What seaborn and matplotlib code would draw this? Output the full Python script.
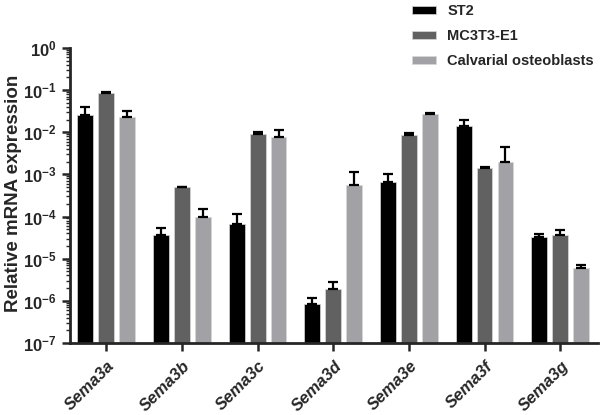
import matplotlib
matplotlib.use("Agg")
import matplotlib.pyplot as plt
import matplotlib.transforms as mtransforms
import seaborn as sns
import numpy as np
import pandas as pd
from matplotlib.ticker import LogLocator, FixedLocator, NullFormatter

genes = ["Sema3a", "Sema3b", "Sema3c", "Sema3d", "Sema3e", "Sema3f", "Sema3g"]
cells = ["ST2", "MC3T3-E1", "Calvarial osteoblasts"]

st2_mean = [0.026, 3.7e-5, 6.8e-5, 8.2e-7, 6.5e-4, 0.0144, 3.3e-5]
st2_err_top = [0.039, 5.3e-5, 1.15e-4, 1.2e-6, 1.02e-3, 0.020, 3.9e-5]
mc3t3_mean = [0.084, 4.9e-4, 0.0091, 1.86e-6, 0.0085, 1.45e-3, 3.6e-5]
mc3t3_err_top = [0.091, 5.1e-4, 0.0101, 2.8e-6, 0.0098, 1.48e-3, 4.9e-5]
calv_mean = [0.023, 9.6e-5, 0.0076, 5.6e-4, 0.0266, 1.94e-3, 6.0e-6]
calv_err_top = [0.032, 1.5e-4, 0.0115, 1.12e-3, 0.029, 4.5e-3, 7.2e-6]

colors = ["#000000", "#616161", "#a2a2a6"]

means = [st2_mean, mc3t3_mean, calv_mean]
tops = [st2_err_top, mc3t3_err_top, calv_err_top]

df = pd.DataFrame({
    "gene": genes * 3,
    "cell": [c for c in cells for _ in genes],
    "value": st2_mean + mc3t3_mean + calv_mean,
})

sns.set_style("ticks")
plt.rcParams["font.family"] = ["Liberation Sans", "DejaVu Sans"]
plt.rcParams["font.weight"] = "bold"
plt.rcParams["mathtext.fontset"] = "custom"
plt.rcParams["mathtext.rm"] = "Liberation Sans:bold"
plt.rcParams["mathtext.bf"] = "Liberation Sans:bold"
plt.rcParams["mathtext.it"] = "Liberation Sans:bold:italic"

fig = plt.figure(figsize=(6, 4.15), dpi=100)
ax = fig.add_axes([0.1167, 0.1735, 0.88, 0.711])

sns.barplot(data=df, x="gene", y="value", hue="cell", order=genes,
            hue_order=cells, palette=colors, width=0.83, gap=0.24,
            errorbar=None, edgecolor="#d8d8d8", linewidth=0.5,
            saturation=1, ax=ax, legend=True)
ax.set_yscale("log")

# only the upper half of the error bar is drawn
for cont, m, t in zip(ax.containers, means, tops):
    xs = [b.get_x() + b.get_width() / 2 for b in cont]
    up = np.array(t) - np.array(m)
    ax.errorbar(xs, m, yerr=[np.zeros(len(m)), up], fmt="none",
                ecolor="black", elinewidth=1.6, capsize=3.5, capthick=1.6,
                zorder=1)

ax.set_ylim(1e-7, 1)
ax.set_xlim(-0.479, 6.5)
exps = list(range(-7, 1))
ax.yaxis.set_major_locator(FixedLocator([10.0 ** e for e in exps]))
ax.set_yticklabels([r"$\mathregular{10^{%d}}$" % e for e in exps])
ax.yaxis.set_minor_locator(LogLocator(base=10, subs=np.arange(2, 10), numticks=20))
ax.yaxis.set_minor_formatter(NullFormatter())

ax.set_xlabel("")
ax.set_ylabel("Relative mRNA expression", fontsize=13.5, fontweight="bold")
ax.yaxis.set_label_coords(-0.091, 0.507)
ax.tick_params(axis="y", which="major", labelsize=12, width=1.8, length=6)
ax.tick_params(axis="y", which="minor", width=1.0, length=3)
ax.tick_params(axis="x", labelsize=12, width=1.8, length=6, pad=9)
shift = mtransforms.ScaledTranslation(6 / 100, 0, fig.dpi_scale_trans)
for lab in ax.get_xticklabels():
    lab.set_rotation(45)
    lab.set_ha("right")
    lab.set_va("center")
    lab.set_rotation_mode("anchor")
    lab.set_style("italic")
    lab.set_fontweight("bold")
    lab.set_transform(lab.get_transform() + shift)

sns.despine(ax=ax)
for s in ["left", "bottom"]:
    ax.spines[s].set_linewidth(2)

handles, labels = ax.get_legend_handles_labels()
ax.get_legend().remove()
fig.legend(handles, labels, loc="upper left", bbox_to_anchor=(0.687, 0.99),
           frameon=False, handlelength=1.65, handleheight=0.45,
           labelspacing=0.75, handletextpad=0.75, borderpad=0,
           borderaxespad=0, prop={"weight": "bold", "size": 10.5})

fig.savefig("out.png", dpi=100)
